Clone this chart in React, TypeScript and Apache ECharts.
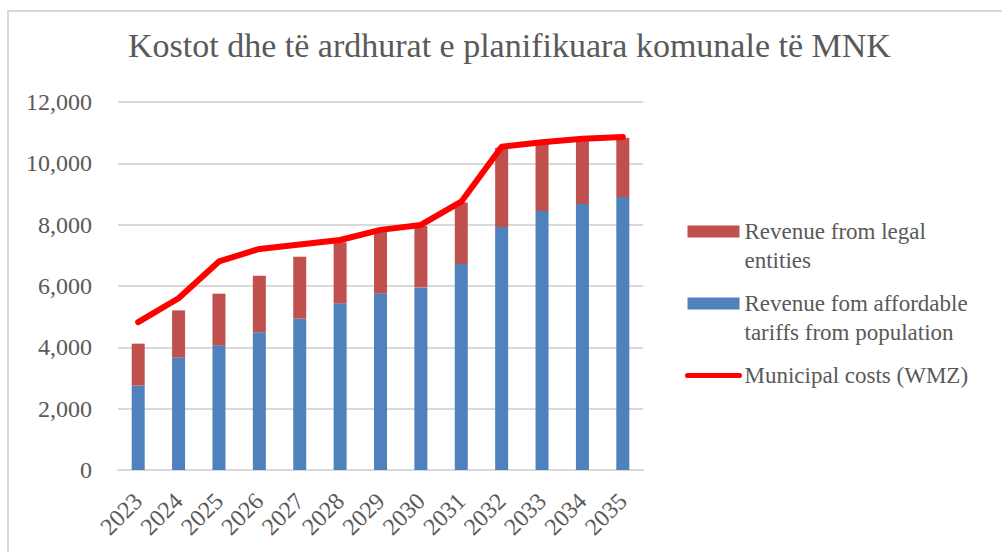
import React, { useEffect, useRef } from "react";
import * as echarts from "echarts";

const years = ["2023", "2024", "2025", "2026", "2027", "2028", "2029", "2030", "2031", "2032", "2033", "2034", "2035"];
const tariffRevenue = [2750, 3675, 4065, 4490, 4935, 5435, 5760, 5955, 6715, 7925, 8445, 8675, 8900];
const legalRevenue = [1370, 1530, 1685, 1845, 2020, 1990, 2010, 2000, 2010, 2585, 2255, 2115, 1930];
const municipalCosts = [4820, 5600, 6800, 7210, 7350, 7500, 7830, 7990, 8750, 10540, 10690, 10800, 10860];

const titleText = "Kostot dhe të ardhurat e planifikuara komunale të MNK";
const nameLegal = "Revenue from legal entities";
const nameTariff = "Revenue fom affordable tariffs from population";
const nameCosts = "Municipal costs (WMZ)";
// a blank first line keeps each legend icon level with the first text line
const legendLabels: Record<string, string> = {
  [nameLegal]: " \nRevenue from legal\nentities",
  [nameTariff]: " \nRevenue fom affordable\ntariffs from population",
  [nameCosts]: " \nMunicipal costs (WMZ)\n ",
};

const FONT = "'Liberation Serif', 'DejaVu Serif', serif";
const GREY = "#595959";

export default function App() {
  const ref = useRef<HTMLDivElement>(null);
  useEffect(() => {
    if (!ref.current) return;
    const chart = echarts.init(ref.current, undefined, { renderer: "svg" });
    chart.setOption({
      animation: false,
      backgroundColor: "#ffffff",
      textStyle: { fontFamily: FONT },
      title: {
        text: titleText,
        left: 128,
        top: 28,
        padding: 0,
        textStyle: { fontFamily: FONT, fontSize: 34, fontWeight: "normal", color: GREY },
      },
      graphic: [
        {
          type: "rect",
          shape: { x: 8, y: 11, width: 1200, height: 700 },
          style: { fill: "none", stroke: "#d9d9d9", lineWidth: 2 },
          silent: true,
          z: -10,
        },
      ],
      grid: { left: 118, right: 359, top: 102, bottom: 82, containLabel: false },
      legend: {
        orient: "vertical",
        left: 685,
        top: 188,
        padding: 0,
        itemWidth: 52,
        itemHeight: 12,
        itemGap: -15,
        formatter: (n: string) => legendLabels[n] || n,
        textStyle: { fontFamily: FONT, fontSize: 23, color: GREY, lineHeight: 29 },
        data: [
          { name: nameLegal, icon: "rect" },
          { name: nameTariff, icon: "rect" },
          {
            name: nameCosts,
            itemStyle: { opacity: 0 },
            lineStyle: { width: 5, cap: "round", color: "#ff0000" },
          },
        ],
      },
      xAxis: {
        type: "category",
        data: years,
        axisLine: { lineStyle: { color: "#d9d9d9", width: 2 } },
        axisTick: { show: false },
        axisLabel: { rotate: 45, fontFamily: FONT, fontSize: 24, color: GREY, margin: 27, interval: 0 },
      },
      yAxis: {
        type: "value",
        min: 0,
        max: 12000,
        interval: 2000,
        axisLine: { show: false },
        axisTick: { show: false },
        splitLine: { lineStyle: { color: "#d9d9d9", width: 2 } },
        axisLabel: {
          fontFamily: FONT,
          fontSize: 24,
          color: GREY,
          margin: 26,
          formatter: (v: number) => v.toLocaleString("en-US"),
        },
      },
      series: [
        {
          name: nameTariff,
          type: "bar",
          stack: "rev",
          data: tariffRevenue,
          barWidth: 13,
          itemStyle: { color: "#4f81bd" },
        },
        {
          name: nameLegal,
          type: "bar",
          stack: "rev",
          data: legalRevenue,
          barWidth: 13,
          itemStyle: { color: "#c0504d" },
        },
        {
          name: nameCosts,
          type: "line",
          data: municipalCosts,
          symbol: "none",
          lineStyle: { color: "#ff0000", width: 6, cap: "round", join: "round" },
          itemStyle: { color: "#ff0000" },
          z: 5,
        },
      ],
    });
    return () => chart.dispose();
  }, []);
  return (
    <div
      ref={ref}
      style={{ position: "fixed", left: 0, top: 0, width: 1002, height: 552, background: "#fff" }}
    />
  );
}
